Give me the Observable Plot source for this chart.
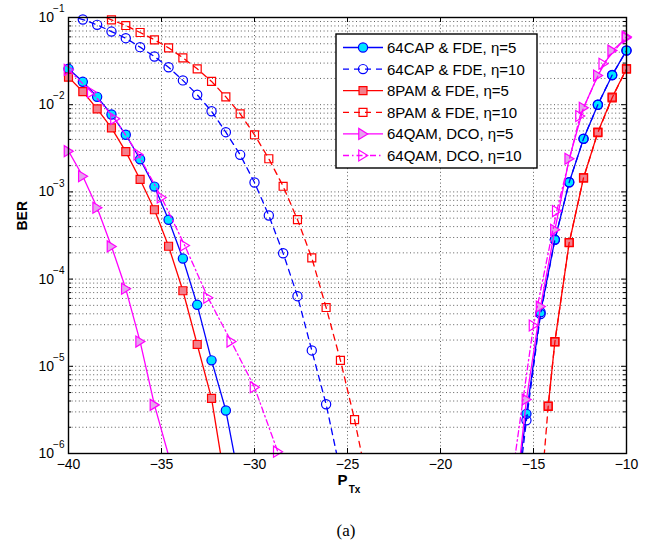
<!DOCTYPE html>
<html><head><meta charset="utf-8">
<script src="https://cdn.jsdelivr.net/npm/d3@7"></script>
<script src="https://cdn.jsdelivr.net/npm/@observablehq/plot@0.6"></script>
<style>
body{margin:0;background:#fff;}
#wrap{position:relative;width:649px;height:549px;}
#cap{position:absolute;left:0;top:521px;width:692px;text-align:center;font-family:"Liberation Serif","Times New Roman",serif;font-size:17px;line-height:20px;}
</style></head><body><div id="wrap"><div id="plot"></div><div id="cap">(a)</div></div>
<script>
// ---- data (P_Tx in dBm, BER); NaN separates the two visible branches ----
const xTicks = [-40, -35, -30, -25, -20, -15, -10];
const yMajor = [1e-6, 1e-5, 1e-4, 1e-3, 1e-2, 1e-1];
const yExponents = ["−6", "−5", "−4", "−3", "−2", "−1"];
const yMinor = [2e-6,3e-6,4e-6,5e-6,6e-6,7e-6,8e-6,9e-6,2e-5,3e-5,4e-5,5e-5,6e-5,7e-5,8e-5,9e-5,2e-4,3e-4,4e-4,5e-4,6e-4,7e-4,8e-4,9e-4,2e-3,3e-3,4e-3,5e-3,6e-3,7e-3,8e-3,9e-3,2e-2,3e-2,4e-2,5e-2,6e-2,7e-2,8e-2,9e-2];

const capEta5Ptx = [-40,-39.23,-38.46,-37.69,-36.92,-36.15,-35.38,-34.62,-33.85,-33.08,-32.31,-31.54,-30.77, NaN, -16.15,-15.38,-14.62,-13.85,-13.08,-12.31,-11.54,-10.77,-10];
const capEta5Ber = [2.58e-2,1.83e-2,1.23e-2,7.73e-3,4.52e-3,2.37e-3,1.15e-3,4.79e-4,1.72e-4,5.07e-5,1.17e-5,3.11e-6,4.3e-7, NaN, 1.6e-7,2.85e-6,4.17e-5,2.84e-4,1.29e-3,4.06e-3,1.00e-2,2.18e-2,4.19e-2];

const capEta10Ptx = [-40,-39.23,-38.46,-37.69,-36.92,-36.15,-35.38,-34.62,-33.85,-33.08,-32.31,-31.54,-30.77,-30,-29.23,-28.46,-27.69,-26.92,-26.15,-25.38, NaN, -16.15,-15.38,-14.62,-13.85,-13.08,-12.31,-11.54,-10.77,-10];
const capEta10Ber = [1.07e-1,9.48e-2,8.24e-2,6.90e-2,5.79e-2,4.57e-2,3.57e-2,2.69e-2,1.90e-2,1.30e-2,8.41e-3,4.84e-3,2.66e-3,1.28e-3,5.36e-4,1.98e-4,6.37e-5,1.52e-5,3.67e-6,6.2e-7, NaN, 1e-7,2.40e-6,3.98e-5,2.82e-4,1.29e-3,4.07e-3,1.00e-2,2.19e-2,4.17e-2];

const pamEta5Ptx = [-40,-39.23,-38.46,-37.69,-36.92,-36.15,-35.38,-34.62,-33.85,-33.08,-32.31,-31.54, NaN, -14.21,-13.85,-13.08,-12.31,-11.54,-10.77,-10];
const pamEta5Ber = [2.07e-2,1.41e-2,8.97e-3,5.43e-3,2.90e-3,1.39e-3,6.24e-4,2.38e-4,7.35e-5,1.78e-5,4.28e-6,4.2e-7, NaN, 3.49e-6,1.92e-5,2.61e-4,1.45e-3,4.84e-3,1.22e-2,2.58e-2];

const pamEta10Ptx = [-38.46,-37.69,-36.92,-36.15,-35.38,-34.62,-33.85,-33.08,-32.31,-31.54,-30.77,-30,-29.23,-28.46,-27.69,-26.92,-26.15,-25.38,-24.62,-23.85, NaN, -14.62,-14.21,-13.85,-13.08,-12.31,-11.54,-10.77,-10];
const pamEta10Ber = [1.10e-1,9.40e-2,8.09e-2,6.73e-2,5.55e-2,4.49e-2,3.45e-2,2.58e-2,1.85e-2,1.23e-2,7.87e-3,4.52e-3,2.40e-3,1.16e-3,4.82e-4,1.75e-4,4.72e-5,1.17e-5,2.45e-6,3.8e-7, NaN, 2.95e-7,3.47e-6,1.91e-5,2.63e-4,1.45e-3,4.79e-3,1.20e-2,2.57e-2];

const qamEta5Ptx = [-40,-39.23,-38.46,-37.69,-36.92,-36.15,-35.38,-34.62, NaN, -16.15,-15.38,-14.62,-13.85,-13.08,-12.31,-11.54,-10.77,-10];
const qamEta5Ber = [2.93e-3,1.51e-3,6.58e-4,2.37e-4,7.74e-5,1.92e-5,3.61e-6,9.5e-7, NaN, 1.35e-7,4.16e-6,4.85e-5,3.67e-4,2.40e-3,9.20e-3,2.16e-2,4.17e-2,5.85e-2];

const qamEta10Ptx = [-40,-38.75,-37.5,-36.25,-35,-33.75,-32.5,-31.25,-30,-28.75,-27.5, NaN, -16.25,-15,-13.75,-12.5,-11.25,-10];
const qamEta10Ber = [2.51e-2,1.39e-2,6.89e-3,2.69e-3,8.63e-4,2.43e-4,6.11e-5,1.92e-5,5.75e-6,1.05e-6,1e-7, NaN, 3.8e-7,2.94e-5,6.03e-4,7.41e-3,2.95e-2,6.03e-2];

const seriesNames = ["64CAP & FDE, η=5","64CAP & FDE, η=10","8PAM & FDE, η=5","8PAM & FDE, η=10","64QAM, DCO, η=5","64QAM, DCO, η=10"];

// ---- marker shapes ----
const triRight = {draw(ctx, size){ const r = Math.sqrt(size/Math.PI); ctx.moveTo(r*0.95,0); ctx.lineTo(-r*0.85,-r*1.1); ctx.lineTo(-r*0.85,r*1.1); ctx.closePath(); }};
const FONT = '"Liberation Sans", Arial, Helvetica, sans-serif';

const series = [
  {name: seriesNames[0], ptx: capEta5Ptx,  ber: capEta5Ber,  stroke:"#0000ff", dash:null,        symbol:"circle", r:4.6, fill:"#00e5ff"},
  {name: seriesNames[1], ptx: capEta10Ptx, ber: capEta10Ber, stroke:"#0000ff", dash:"6,5",       symbol:"circle", r:4.6, fill:"none"},
  {name: seriesNames[2], ptx: pamEta5Ptx,  ber: pamEta5Ber,  stroke:"#ff0000", dash:null,        symbol:"square", r:4.5, fill:"#f3808c"},
  {name: seriesNames[3], ptx: pamEta10Ptx, ber: pamEta10Ber, stroke:"#ff0000", dash:"6,5",       symbol:"square", r:4.5, fill:"none"},
  {name: seriesNames[4], ptx: qamEta5Ptx,  ber: qamEta5Ber,  stroke:"#ff00ff", dash:null,        symbol:triRight, r:5,   fill:"#e4a4ec"},
  {name: seriesNames[5], ptx: qamEta10Ptx, ber: qamEta10Ber, stroke:"#ff00ff", dash:"6,3,1.5,3", symbol:triRight, r:5,   fill:"none"}
];
series.forEach(s => s.rows = s.ptx.map((x, i) => ({x, y: s.ber[i]})));
const inRange = d => Number.isFinite(d.y) && d.y >= 0.999e-6 && d.y <= 1.001e-1;

const marks = [
  Plot.ruleX(xTicks.slice(1, -1), {x: d => d, stroke:"#333", strokeWidth:0.8, strokeDasharray:"1,2.6"}),
  Plot.ruleY(yMajor.slice(1, -1).concat(yMinor), {y: d => d, stroke:"#333", strokeWidth:0.8, strokeDasharray:"1,2.6"}),
  // inward ticks
  Plot.tickX(xTicks, {x: d => d, insetTop: 431, stroke:"#000"}),
  Plot.tickX(xTicks, {x: d => d, insetBottom: 431, stroke:"#000"}),
  Plot.tickY(yMajor, {y: d => d, insetRight: 553, stroke:"#000"}),
  Plot.tickY(yMajor, {y: d => d, insetLeft: 553, stroke:"#000"}),
  Plot.tickY(yMinor, {y: d => d, insetRight: 555, stroke:"#000"}),
  Plot.tickY(yMinor, {y: d => d, insetLeft: 555, stroke:"#000"}),
  Plot.axisX(xTicks, {anchor:"bottom", tickSize:0, tickPadding:6, fontSize:14, label:null, fontFamily:FONT}),
  Plot.text(yMajor, {y: d => d, frameAnchor:"left", text: () => "10", dx:-14.5, textAnchor:"end", fontSize:14, fontFamily:FONT}),
  Plot.text(yMajor, {y: d => d, frameAnchor:"left", text: (d, i) => yExponents[i], dx:-4, dy:-8.5, textAnchor:"end", fontSize:10, fontFamily:FONT}),
  Plot.text(["BER"], {text: d => d, frameAnchor:"left", dx:-46, dy:-5, rotate:-90, fontWeight:"bold", fontSize:14, fontFamily:FONT}),
  Plot.text(["P"], {text: d => d, frameAnchor:"bottom", dx:-5, dy:31, fontWeight:"bold", fontSize:15, fontFamily:FONT}),
  Plot.text(["Tx"], {text: d => d, frameAnchor:"bottom", dx:7, dy:39, fontWeight:"bold", fontSize:10, fontFamily:FONT})
];
for (const s of series) {
  marks.push(Plot.line(s.rows, {x:"x", y:"y", stroke:s.stroke, strokeWidth:1.3, strokeDasharray:s.dash, clip:true}));
  marks.push(Plot.dot(s.rows.filter(inRange), {x:"x", y:"y", symbol:s.symbol, r:s.r, stroke:s.stroke, strokeWidth:1.2, fill:s.fill}));
}
marks.push(Plot.frame({stroke:"#000", strokeWidth:1.4}));

const chart = Plot.plot({
  width: 649, height: 500,
  marginLeft: 68, marginRight: 23, marginTop: 17, marginBottom: 47,
  style: {fontFamily: FONT, fontSize: "14px", background: "white", overflow: "visible", color: "black"},
  x: {domain: [-40, -10], axis: null},
  y: {type: "log", domain: [1e-6, 1e-1], axis: null},
  marks
});
document.getElementById("plot").appendChild(chart);

// ---- legend ----
const svg = d3.select(chart);
const lg = svg.append("g").attr("font-family", FONT).attr("text-anchor", "start");
lg.append("rect").attr("x", 336).attr("y", 34).attr("width", 201).attr("height", 134)
  .attr("fill", "white").attr("stroke", "black").attr("stroke-width", 1.4);
series.forEach((s, i) => {
  const cy = 47.5 + i * 21.6;
  lg.append("line").attr("x1", 343).attr("x2", 383).attr("y1", cy).attr("y2", cy)
    .attr("stroke", s.stroke).attr("stroke-width", 1.3).attr("stroke-dasharray", s.dash);
  const type = s.symbol === "circle" ? d3.symbolCircle : s.symbol === "square" ? d3.symbolSquare : s.symbol;
  lg.append("path").attr("transform", `translate(363,${cy})`)
    .attr("d", d3.symbol(type, Math.PI * s.r * s.r)())
    .attr("fill", s.fill).attr("stroke", s.stroke).attr("stroke-width", 1.2);
  lg.append("text").attr("x", 387).attr("y", cy).attr("dy", "0.36em").attr("font-size", 15)
    .attr("text-anchor", "start").attr("fill", "black").text(s.name);
});
</script></body></html>
